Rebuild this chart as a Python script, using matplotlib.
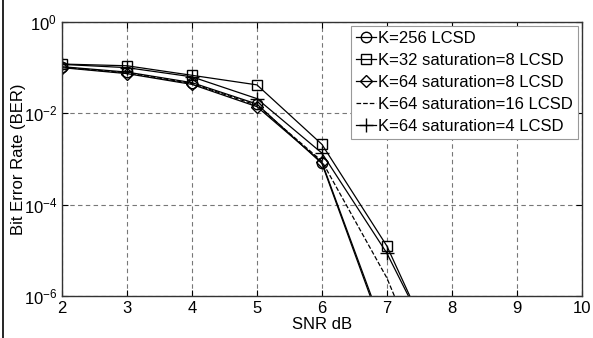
import numpy as np
import matplotlib.pyplot as plt
from matplotlib.lines import Line2D

plt.rcParams['font.family'] = ['Liberation Sans', 'DejaVu Sans']

snr = [1, 2, 3, 4, 5, 6, 7, 8]

ber_k256 = [0.125, 0.105, 0.08, 0.047, 0.016, 8.0e-4, 1.0e-7, 1e-9]
ber_k32_s8 = [0.13, 0.12, 0.11, 0.068, 0.042, 2.1e-3, 1.25e-5, 1e-8]
ber_k64_s8 = [0.12, 0.1, 0.074, 0.043, 0.014, 8.5e-4, 1.2e-7, 1e-9]
ber_k64_s16 = [0.12, 0.102, 0.077, 0.045, 0.015, 9.0e-4, 2.5e-6, 1e-9]
ber_k64_s4 = [0.13, 0.118, 0.1, 0.063, 0.021, 1.35e-3, 8.7e-6, 1.3e-8]

labels = ['K=256 LCSD', 'K=32 saturation=8 LCSD', 'K=64 saturation=8 LCSD',
          'K=64 saturation=16 LCSD', 'K=64 saturation=4 LCSD']

fig = plt.figure(figsize=(5.93, 3.38), dpi=100)
ax = fig.add_axes([0.1046, 0.124, 0.8764, 0.811])

lw = 0.9
ax.semilogy(snr, ber_k256, 'k-', marker='o', mfc='none', ms=7.5, lw=lw, label=labels[0])
ax.semilogy(snr, ber_k32_s8, 'k-', marker='s', mfc='none', ms=7.5, lw=lw, label=labels[1])
ax.semilogy(snr, ber_k64_s8, 'k-', marker='D', mfc='none', ms=6.5, lw=lw, label=labels[2])
ax.semilogy(snr, ber_k64_s16, 'k--', lw=lw, label=labels[3])
ax.semilogy(snr, ber_k64_s4, 'k-', marker='+', ms=10, lw=lw, label=labels[4])

ax.set_xlim(2, 10)
ax.set_ylim(1e-6, 1)
ax.set_xticks(range(2, 11))
ax.set_yticks([1, 1e-2, 1e-4, 1e-6])
ax.minorticks_off()
ax.tick_params(direction='in', top=True, right=True, labelsize=12, length=4)
ax.grid(True, color='#777777', linestyle=(0, (4, 3)), linewidth=0.8)
for s in ax.spines.values():
    s.set_linewidth(1.0)
    s.set_color('#333333')

ax.set_xlabel('SNR dB', fontsize=12, labelpad=1)
ax.set_ylabel('Bit Error Rate (BER)', fontsize=12)
ax.yaxis.set_label_coords(-0.07, 0.5)

leg = ax.legend(loc='upper right', fontsize=12, handlelength=1.2, handletextpad=0.1,
                labelspacing=0.42, borderpad=0.3, borderaxespad=0.25,
                fancybox=False, framealpha=1, edgecolor='#999999')
leg.get_frame().set_linewidth(0.8)

# border line at the left edge of the scan
fig.add_artist(Line2D([0.005, 0.005], [0, 1], color='black', lw=1.2))

fig.savefig('out.png', dpi=100)
